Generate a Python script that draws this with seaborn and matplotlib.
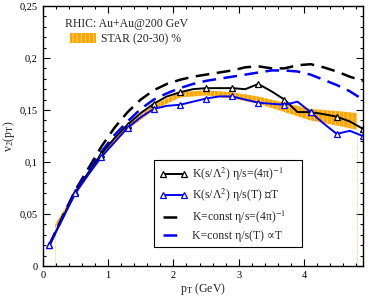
import matplotlib
matplotlib.use("Agg")
import matplotlib.pyplot as plt
import numpy as np
import pandas as pd
import seaborn as sns
from matplotlib.lines import Line2D
from matplotlib.patches import Patch
from matplotlib.ticker import MultipleLocator, FuncFormatter

# pT grid of the model curves (markers every second point)
pt = [0.1, 0.3, 0.5, 0.7, 0.9, 1.1, 1.3, 1.5, 1.7, 1.9, 2.1, 2.3, 2.5,
      2.7, 2.9, 3.1, 3.3, 3.5, 3.7, 3.9, 4.1, 4.3, 4.5, 4.7, 4.9]

v2_K_lambda_const = [0.020, 0.046, 0.071, 0.090, 0.108, 0.123, 0.136, 0.147, 0.156,
                     0.163, 0.167, 0.170, 0.171, 0.171, 0.171, 0.170, 0.175, 0.168,
                     0.160, 0.148, 0.148, 0.146, 0.1436, 0.139, 0.132]
v2_K_lambda_T = [0.020, 0.045, 0.070, 0.088, 0.105, 0.119, 0.133, 0.143, 0.151,
                 0.154, 0.155, 0.158, 0.161, 0.163, 0.163, 0.160, 0.157, 0.156,
                 0.155, 0.158, 0.148, 0.137, 0.127, 0.130, 0.125]
v2_Kconst_const = [0.020, 0.047, 0.073, 0.094, 0.115, 0.133, 0.148, 0.160, 0.169,
                   0.175, 0.179, 0.182, 0.184, 0.186, 0.188, 0.191, 0.192, 0.190,
                   0.190, 0.193, 0.194, 0.191, 0.187, 0.182, 0.178]
v2_Kconst_T = [0.020, 0.046, 0.072, 0.092, 0.110, 0.126, 0.139, 0.151, 0.160,
               0.166, 0.171, 0.175, 0.178, 0.180, 0.182, 0.184, 0.186, 0.188,
               0.188, 0.187, 0.184, 0.179, 0.174, 0.168, 0.160]

# STAR (20-30)% band
star_pt = [0.19, 0.5, 0.9, 1.3, 1.7, 2.1, 2.5, 2.9, 3.3, 3.7, 4.1, 4.5, 4.81]
star_lo = [0.036, 0.068, 0.105, 0.131, 0.150, 0.162, 0.164, 0.161, 0.156, 0.148,
           0.140, 0.135, 0.131]
star_hi = [0.040, 0.072, 0.109, 0.136, 0.155, 0.167, 0.169, 0.167, 0.163, 0.157,
           0.151, 0.149, 0.147]

labels = [r"K(s/Λ$^2$) η/s=(4π)$^{-1}$",
          "K(s/Λ$^2$) η/s(T) ∝T",
          r"K=const η/s=(4π)$^{-1}$",
          "K=const η/s(T) ∝T"]

sns.set_style("ticks")
plt.rcParams["font.family"] = ["Liberation Serif", "DejaVu Serif"]
plt.rcParams["mathtext.fontset"] = "stix"
plt.rcParams["hatch.color"] = "#ffd98a"
plt.rcParams["hatch.linewidth"] = 0.6

fig = plt.figure(figsize=(3.68, 2.96), dpi=100)
ax = fig.add_axes([0.116, 0.101, 0.870, 0.879])

orange = "#ffa500"
ax.fill_between(star_pt, star_lo, star_hi, facecolor=orange, edgecolor="#ffd98a",
                hatch="||||", linewidth=0)
ax.vlines([star_pt[0], star_pt[-1]], 0, [star_lo[0], star_lo[-1]],
          colors=orange, linestyles=":", linewidth=0.5)

df = pd.DataFrame({"pt": pt, "a": v2_K_lambda_const, "b": v2_K_lambda_T,
                   "c": v2_Kconst_const, "d": v2_Kconst_T})

sns.lineplot(data=df, x="pt", y="c", ax=ax, color="black", lw=1.8,
             linestyle=(0, (5.5, 3)))
sns.lineplot(data=df, x="pt", y="d", ax=ax, color="#0000ff", lw=1.8,
             linestyle=(0, (5.5, 3)))
sns.lineplot(data=df, x="pt", y="a", ax=ax, color="black", lw=1.4,
             marker="^", markevery=2, markersize=4.5, markerfacecolor="white",
             markeredgecolor="black", markeredgewidth=0.9)
sns.lineplot(data=df, x="pt", y="b", ax=ax, color="#0000ff", lw=1.4,
             marker="^", markevery=2, markersize=4.5, markerfacecolor="white",
             markeredgecolor="#0000ff", markeredgewidth=0.9)

ax.set_xlim(0, 4.9)
ax.set_ylim(0, 0.25)
ax.xaxis.set_major_locator(MultipleLocator(1))
ax.xaxis.set_minor_locator(MultipleLocator(0.2))
ax.yaxis.set_major_locator(MultipleLocator(0.05))
ax.yaxis.set_minor_locator(MultipleLocator(0.01))
ax.yaxis.set_major_formatter(FuncFormatter(
    lambda v, p: "0" if abs(v) < 1e-9 else f"{v:g}".replace(".", ",")))
ax.tick_params(which="both", direction="in", top=True, right=True,
               labelsize=7.5, width=0.8, colors="black")
ax.tick_params(which="major", length=5)
ax.tick_params(which="minor", length=2.5)
for s in ax.spines.values():
    s.set_linewidth(1.0)
    s.set_color("black")

ax.set_xlabel(r"p$_\mathrm{T}$ (GeV)", fontsize=8.5, labelpad=1)
ax.set_ylabel(r"v$_2$(p$_\mathrm{T}$)", fontsize=8.5, labelpad=2)

ax.text(0.07, 0.93, "RHIC: Au+Au@200 GeV", transform=ax.transAxes,
        fontsize=8.5, va="center", ha="left")
leg1 = ax.legend(handles=[Patch(facecolor=orange, edgecolor="#ffd98a",
                                hatch="||||", linewidth=0)],
                 labels=["STAR (20-30) %"], loc="upper left",
                 bbox_to_anchor=(0.084, 0.896), frameon=False, fontsize=8.5,
                 handlelength=2.2, handleheight=0.9, handletextpad=0.5,
                 borderaxespad=0, borderpad=0)
ax.add_artist(leg1)

handles = [
    Line2D([], [], color="black", lw=1.4, marker="^", markersize=4.5,
           markerfacecolor="white", markeredgewidth=0.9),
    Line2D([], [], color="#0000ff", lw=1.4, marker="^", markersize=4.5,
           markerfacecolor="white", markeredgewidth=0.9),
    Line2D([], [], color="black", lw=1.8, linestyle=(0, (5.5, 3))),
    Line2D([], [], color="#0000ff", lw=1.8, linestyle=(0, (5.5, 3))),
]
leg = ax.legend(handles=handles, labels=labels, loc="lower left",
                bbox_to_anchor=(0.347, 0.073, 0.462, 0.315), mode="expand",
                borderaxespad=0, numpoints=2, fontsize=8.5, handlelength=2.4,
                handletextpad=0.4, labelspacing=0.35, borderpad=0.45,
                fancybox=False, edgecolor="black", framealpha=1)
leg.get_frame().set_linewidth(0.8)

fig.savefig("out.png", dpi=100)
